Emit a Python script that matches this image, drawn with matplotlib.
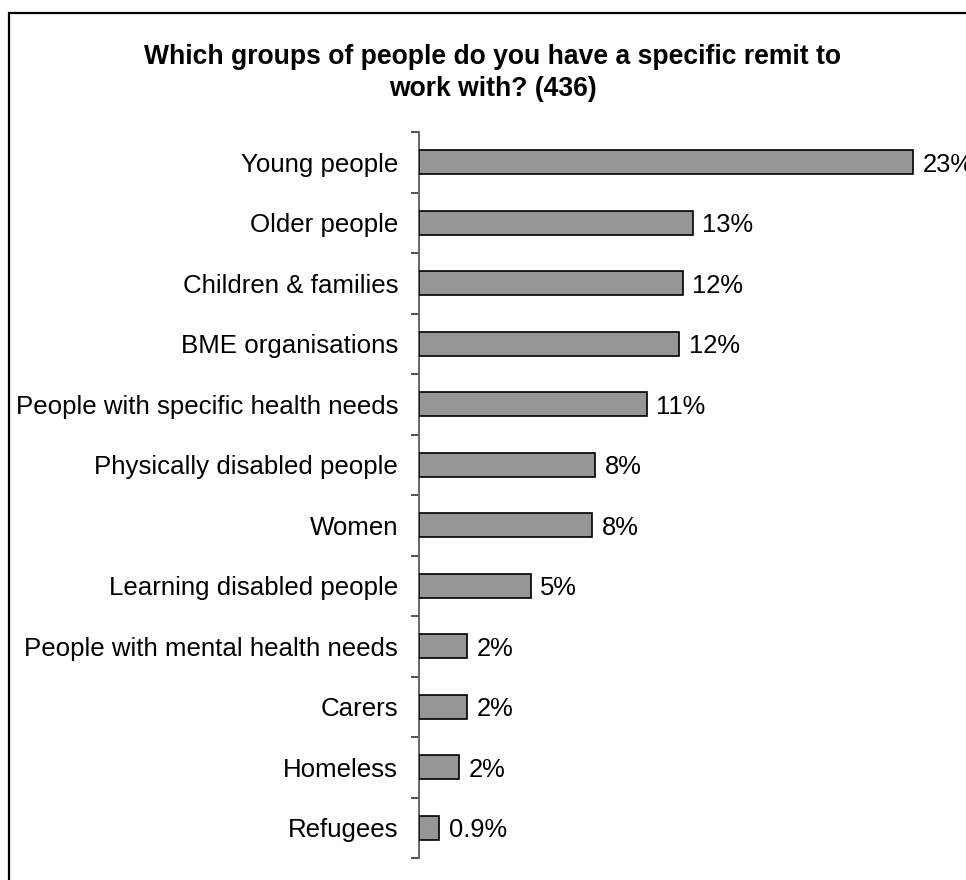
import matplotlib
matplotlib.use("Agg")
import matplotlib.pyplot as plt
from matplotlib.patches import Rectangle
from matplotlib.ticker import FixedLocator

# Survey responses: share of organisations with a specific remit (%)
categories = [
    "Young people",
    "Older people",
    "Children & families",
    "BME organisations",
    "People with specific health needs",
    "Physically disabled people",
    "Women",
    "Learning disabled people",
    "People with mental health needs",
    "Carers",
    "Homeless",
    "Refugees",
]
shares = [23.0, 12.74, 12.28, 12.1, 10.6, 8.19, 8.05, 5.2, 2.23, 2.23, 1.86, 0.93]
title = "Which groups of people do you have a specific remit to\nwork with? (436)"


def pct_label(v):
    return f"{v:.1f}%" if v < 1 else f"{v:.0f}%"


W, H, DPI = 966, 880, 100
plt.rcParams["font.family"] = ["Liberation Sans", "DejaVu Sans"]

fig = plt.figure(figsize=(W / DPI, H / DPI), dpi=DPI)
fig.patch.set_facecolor("white")

# outer chart frame (left and top edges visible)
fig.patches.append(Rectangle((9 / W, -0.1), 1.2, (H - 13) / H + 0.1,
                             transform=fig.transFigure, fill=False,
                             edgecolor="black", linewidth=1.6))

ax_left, ax_top, ax_bottom = 419, 132, 858
px_per_unit = 494 / 23.0
xmax = 25
ax = fig.add_axes([ax_left / W, 1 - ax_bottom / H,
                   xmax * px_per_unit / W, (ax_bottom - ax_top) / H])

y = list(range(len(categories)))
ax.barh(y, shares, height=0.4, color="#969696", edgecolor="black",
        linewidth=1.2, zorder=3)

for yi, v in zip(y, shares):
    ax.annotate(pct_label(v), xy=(v, yi), xytext=(7, 0),
                textcoords="offset points", va="center_baseline", ha="left",
                fontsize=18.4, color="black", clip_on=False,
                annotation_clip=False)

ax.set_xlim(0, xmax)
ax.set_ylim(len(categories) - 0.5, -0.5)

ax.set_yticks(y)
ax.set_yticklabels(categories, fontsize=18.6, va="center_baseline")
ax.yaxis.set_minor_locator(FixedLocator([i - 0.5 for i in range(len(categories) + 1)]))
ax.tick_params(axis="y", which="major", length=0, pad=15)
ax.tick_params(axis="y", which="minor", length=6, width=1.2, color="#333333")
ax.set_xticks([])

for side in ("top", "right", "bottom"):
    ax.spines[side].set_visible(False)
ax.spines["left"].set_color("#666666")
ax.spines["left"].set_linewidth(1.4)

fig.text(493 / W, 1 - 73 / H, title, ha="center", va="center",
         fontsize=19.1, fontweight="bold", linespacing=1.35)

fig.savefig("out.png", dpi=DPI)
